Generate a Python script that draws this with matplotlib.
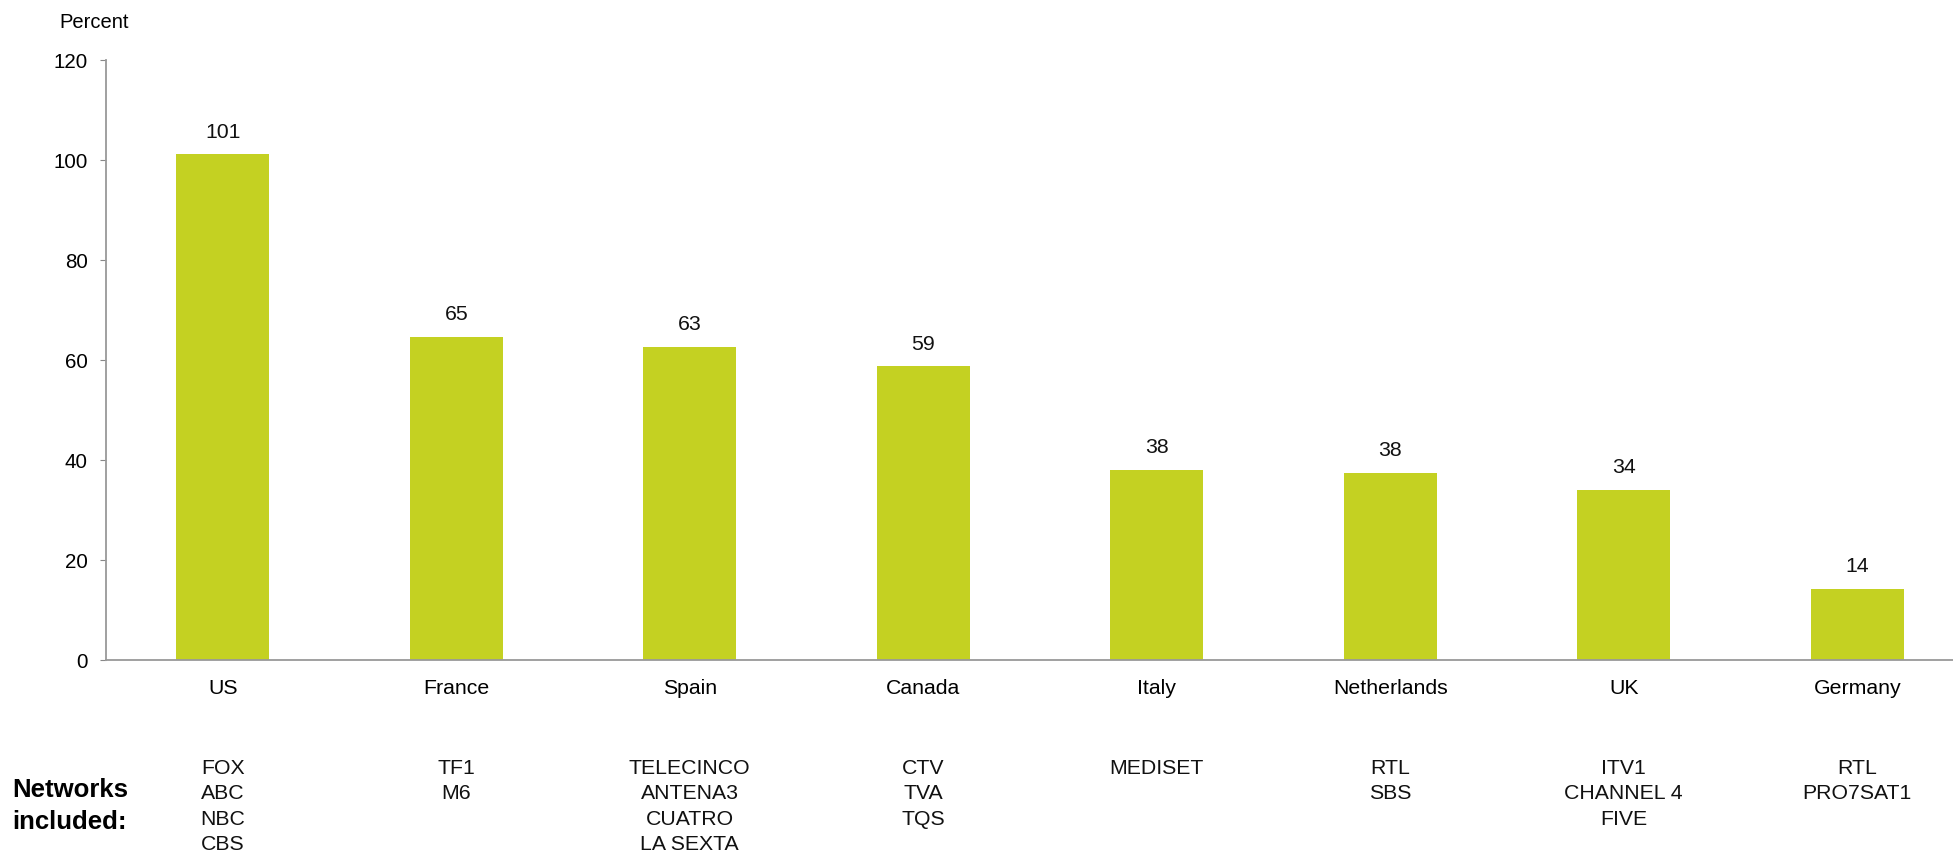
import matplotlib
matplotlib.use("Agg")
import matplotlib.pyplot as plt

countries = ["US", "France", "Spain", "Canada", "Italy", "Netherlands", "UK", "Germany"]
values = [101.2, 64.7, 62.7, 58.8, 38.1, 37.5, 34.1, 14.2]
networks = [
    ["FOX", "ABC", "NBC", "CBS"],
    ["TF1", "M6"],
    ["TELECINCO", "ANTENA3", "CUATRO", "LA SEXTA"],
    ["CTV", "TVA", "TQS"],
    ["MEDISET"],
    ["RTL", "SBS"],
    ["ITV1", "CHANNEL 4", "FIVE"],
    ["RTL", "PRO7SAT1"],
]
yticks = [0, 20, 40, 60, 80, 100, 120]

plt.rcParams['font.family'] = ['Liberation Sans', 'DejaVu Sans']
W, H = 1953, 854
FS = 15.3
fig = plt.figure(figsize=(W / 100, H / 100), dpi=100)
ax = fig.add_axes([106 / W, (H - 661) / H, (W - 106) / W, 600 / H])

x = list(range(len(countries)))
ax.bar(x, values, width=0.4, color="#c4d122")
for xi, v in zip(x, values):
    ax.text(xi, v + 4.6, f"{round(v):d}", ha="center", va="center", fontsize=FS, color="#111111")

ax.set_xlim(-0.5, 7.41)
ax.set_ylim(0, 120)
ax.set_yticks(yticks)
ax.set_yticklabels([str(t) for t in yticks], fontsize=14.8)
ax.set_xticks(x)
ax.set_xticklabels(countries, fontsize=FS)
ax.tick_params(axis="x", length=0, pad=13)
ax.tick_params(axis="y", length=4.3, color="#888888", pad=9, direction="out")
for s in ["top", "right"]:
    ax.spines[s].set_visible(False)
for s in ["left", "bottom"]:
    ax.spines[s].set_color("#999999")
    ax.spines[s].set_linewidth(1.3)

for xi, nets in zip(x, networks):
    xf = ax.transData.transform((xi, 0))[0] / W
    fig.text(xf, 1 - 759 / H, "\n".join(nets), ha="center", va="top", fontsize=FS,
             linespacing=1.42, color="#111111")

fig.text(12 / W, 1 - 806 / H, "Networks\nincluded:", ha="left", va="center", fontsize=18.5,
         fontweight="bold", linespacing=1.38)
fig.text(59 / W, 1 - 22 / H, "Percent", ha="left", va="center", fontsize=14.5)

fig.savefig("out.png", dpi=100)
